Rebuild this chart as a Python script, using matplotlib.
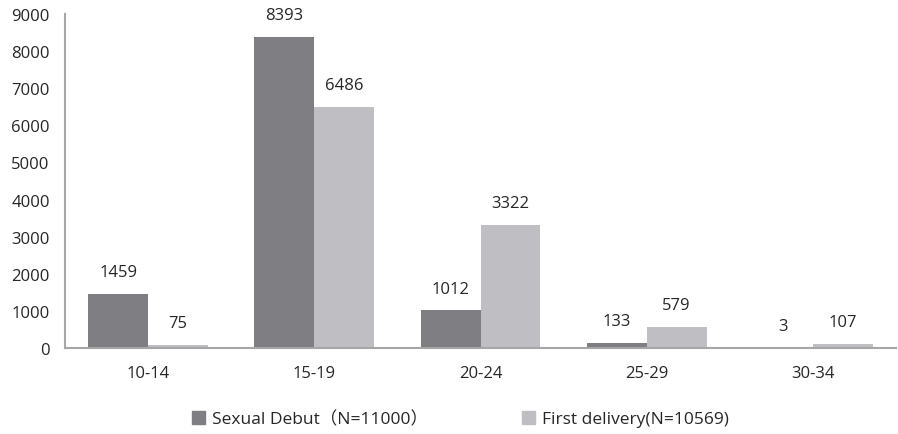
import numpy as np
import matplotlib.pyplot as plt
from matplotlib.patches import Patch

# data
groups = ['10-14', '15-19', '20-24', '25-29', '30-34']
sexual_debut = [1459, 8393, 1012, 133, 3]
first_delivery = [75, 6486, 3322, 579, 107]
yticks = [0, 1000, 2000, 3000, 4000, 5000, 6000, 7000, 8000, 9000]

dark = '#7f7f83'
light = '#bfbfc3'
txt = '#262626'
axc = '#a6a6a6'

plt.rcParams['font.family'] = ['Open Sans', 'Noto Sans CJK SC', 'DejaVu Sans']

fig = plt.figure(figsize=(8.98, 4.35), dpi=100)
ax = fig.add_axes([65/898, 1-349/435, 831/898, 334/435])

x = np.arange(len(groups))
w = 0.36
b1 = ax.bar(x - w/2, sexual_debut, w, color=dark)
b2 = ax.bar(x + w/2, first_delivery, w, color=light)

for bars in (b1, b2):
    for r in bars:
        ax.annotate(str(int(r.get_height())),
                    (r.get_x() + r.get_width()/2, r.get_height()),
                    xytext=(0, 10), textcoords='offset points',
                    ha='center', va='bottom', fontsize=12, color=txt)

ax.set_xlim(-0.5, len(groups) - 0.5)
ax.set_ylim(0, 9000)
ax.set_yticks(yticks)
ax.set_xticks(x)
ax.set_xticklabels(groups)
ax.tick_params(axis='both', length=0, labelsize=12, colors=txt)
ax.tick_params(axis='x', pad=12)
ax.tick_params(axis='y', pad=11)

for s in ('top', 'right'):
    ax.spines[s].set_visible(False)
for s in ('left', 'bottom'):
    ax.spines[s].set_color(axc)
    ax.spines[s].set_linewidth(1.5)

handles = [Patch(color=dark, label='Sexual Debut（N=11000）'),
           Patch(color=light, label='First delivery(N=10569)')]
fig.legend(handles=handles, loc='center left',
           bbox_to_anchor=(192/898, 1-420/435),
           ncol=2, frameon=False, fontsize=12.5, handlelength=0.75,
           handleheight=0.75, handletextpad=0.4, columnspacing=5.4,
           borderpad=0, borderaxespad=0, labelcolor=txt)

fig.savefig('out.png', dpi=100)
